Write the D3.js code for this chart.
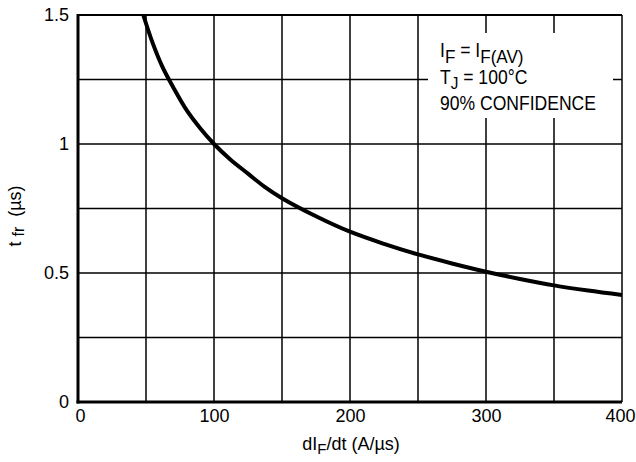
<!DOCTYPE html>
<html>
<head>
<meta charset="utf-8">
<script src="https://cdn.jsdelivr.net/npm/d3@7"></script>
<style>
  html, body { margin: 0; padding: 0; background: #fff; }
  svg { display: block; font-family: "Liberation Sans", Arial, Helvetica, sans-serif; }
</style>
</head>
<body>
<svg id="chart" width="636" height="462"></svg>
<script>
// ---- data ----
const xTicks = [0, 100, 200, 300, 400];
const yTicks = [0, 0.5, 1, 1.5];
const xGrid = [50, 100, 150, 200, 250, 300, 350];
const yGrid = [0.25, 0.5, 0.75, 1, 1.25];
const diF = [48, 55, 62, 70, 80, 90, 100, 112, 125, 137, 150, 175, 200, 225, 250, 275, 300, 325, 350, 375, 400];
const tfr = [1.5, 1.39, 1.30, 1.22, 1.13, 1.06, 1.0, 0.94, 0.885, 0.835, 0.79, 0.72, 0.66, 0.613, 0.572, 0.537, 0.505, 0.477, 0.452, 0.432, 0.415];

const svg = d3.select("#chart");
const x = d3.scaleLinear().domain([0, 400]).range([78, 622]);
const y = d3.scaleLinear().domain([0, 1.5]).range([402, 15]);

// grid
svg.append("g").selectAll("line").data(xGrid).join("line")
  .attr("x1", d => x(d)).attr("x2", d => x(d))
  .attr("y1", y(1.5)).attr("y2", y(0))
  .attr("stroke", "#000").attr("stroke-width", 1.5);
svg.append("g").selectAll("line").data(yGrid).join("line")
  .attr("x1", x(0)).attr("x2", x(400))
  .attr("y1", d => y(d)).attr("y2", d => y(d))
  .attr("stroke", "#000").attr("stroke-width", 1.5);

// borders
svg.append("line").attr("x1", x(0)).attr("x2", x(400)).attr("y1", y(1.5)).attr("y2", y(1.5))
  .attr("stroke", "#000").attr("stroke-width", 2);
svg.append("line").attr("x1", x(400)).attr("x2", x(400)).attr("y1", y(1.5)).attr("y2", y(0))
  .attr("stroke", "#000").attr("stroke-width", 1.5);

// annotation box (white knock-out)
svg.append("rect").attr("x", 428).attr("y", 33).attr("width", 185).attr("height", 85).attr("fill", "#fff");

// axes lines (thick)
svg.append("line").attr("x1", x(0)).attr("x2", x(0)).attr("y1", y(1.5) - 1).attr("y2", y(0) + 1.5)
  .attr("stroke", "#000").attr("stroke-width", 3);
svg.append("line").attr("x1", x(0) - 1.5).attr("x2", x(400)).attr("y1", y(0)).attr("y2", y(0))
  .attr("stroke", "#000").attr("stroke-width", 3);

// curve
const pts = diF.map((d, i) => [d, tfr[i]]);
svg.append("path").datum(pts)
  .attr("fill", "none").attr("stroke", "#000").attr("stroke-width", 4)
  .attr("stroke-linecap", "butt")
  .attr("d", d3.line().x(d => x(d[0])).y(d => y(d[1])).curve(d3.curveCatmullRom.alpha(0.5)));

// axes tick labels
const gx = svg.append("g").attr("transform", `translate(0,${y(0)})`)
  .call(d3.axisBottom(x).tickValues(xTicks).tickFormat(d3.format("d")).tickSize(0).tickPadding(7));
gx.select(".domain").remove();
gx.selectAll("text").attr("font-size", 18).attr("fill", "#000").attr("font-family", "Liberation Sans, Arial, sans-serif");
gx.selectAll(".tick").filter(d => d === 0).select("text").attr("dx", 2);
gx.selectAll(".tick").filter(d => d === 400).select("text").attr("dx", -2);

const gy = svg.append("g").attr("transform", `translate(${x(0)},0)`)
  .call(d3.axisLeft(y).tickValues(yTicks).tickFormat(d => d3.format("")(d)).tickSize(0).tickPadding(9));
gy.select(".domain").remove();
gy.selectAll("text").attr("font-size", 18).attr("fill", "#000").attr("font-family", "Liberation Sans, Arial, sans-serif");

// axis titles
const xt = svg.append("text").attr("x", 351).attr("y", 450).attr("text-anchor", "middle")
  .attr("font-size", 18).attr("fill", "#000");
xt.append("tspan").text("dI");
xt.append("tspan").text("F").attr("font-size", 15).attr("dy", 4);
xt.append("tspan").text("/dt (A/µs)").attr("dy", -4);

const yt = svg.append("text").attr("transform", "translate(21,216) rotate(-90)")
  .attr("text-anchor", "middle").attr("font-size", 18).attr("fill", "#000");
yt.append("tspan").text("t ");
yt.append("tspan").text("fr").attr("font-size", 16).attr("dy", 3);
yt.append("tspan").text("  (µs)").attr("dy", -3).attr("xml:space", "preserve");

// annotation
const ann = svg.append("g").attr("transform", "translate(440,0) scale(0.9,1)")
  .attr("font-size", 19.5).attr("fill", "#000");
const l1 = ann.append("text").attr("x", 0).attr("y", 57);
l1.append("tspan").text("I");
l1.append("tspan").text("F").attr("font-size", 19).attr("dy", 6);
l1.append("tspan").text(" = I").attr("dy", -6);
l1.append("tspan").text("F(AV)").attr("font-size", 19).attr("dy", 6);
const l2 = ann.append("text").attr("x", 0).attr("y", 84);
l2.append("tspan").text("T");
l2.append("tspan").text("J").attr("font-size", 17).attr("dy", 5);
l2.append("tspan").text(" = 100°C").attr("dy", -5);
ann.append("text").attr("x", 0).attr("y", 110).text("90% CONFIDENCE");
</script>
</body>
</html>
